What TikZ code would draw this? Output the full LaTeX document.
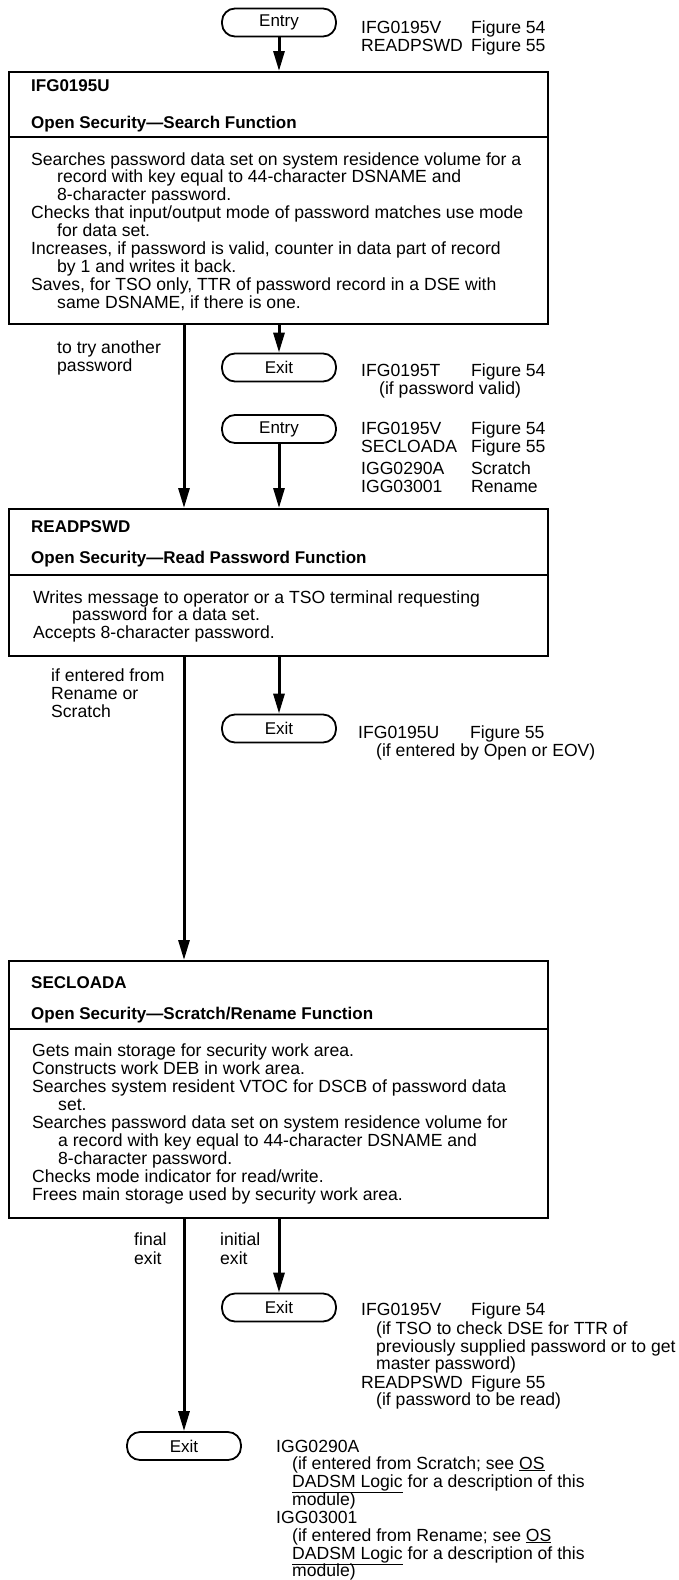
\documentclass[tikz,border=0pt]{standalone}
\usepackage{fontspec}
\setmainfont{Liberation Sans}
\usetikzlibrary{arrows.meta}
\begin{document}
\begin{tikzpicture}[x=1pt,y=-1pt,
  txt/.style={anchor=base west, inner sep=0pt, font=\fontsize{17.6}{18}\selectfont},
  hd/.style={anchor=base west, inner sep=0pt, font=\fontsize{17}{18}\selectfont\bfseries},
  term/.style={draw, line width=1.8pt, rounded corners=13pt, minimum width=114pt,
    minimum height=28pt, inner sep=0pt, font=\fontsize{17}{18}\selectfont},
  box/.style={draw, line width=1.8pt, anchor=north west, inner sep=0pt, minimum width=539pt},
  rule/.style={line width=1.8pt},
  flow/.style={line width=3pt, -{Triangle[length=20pt,width=11pt]}}
]
\useasboundingbox (0,0) rectangle (679,1580);

% terminals
\node[term] (e1) at (279,22.5) {Entry};
\node[term] (x1) at (279,367.5) {Exit};
\node[term] (e2) at (279,429) {Entry};
\node[term] (x2) at (279,728.5) {Exit};
\node[term] (x3) at (279,1307.5) {Exit};
\node[term] (x4) at (184,1446) {Exit};

% process boxes
\node[box, minimum height=252pt] (b1) at (8,71) {};
\node[box, minimum height=147pt] (b2) at (8,508) {};
\node[box, minimum height=257pt] (b3) at (8,960) {};
\draw[rule] (b1.west |- 0,137) -- (b1.east |- 0,137);
\draw[rule] (b2.west |- 0,575) -- (b2.east |- 0,575);
\draw[rule] (b3.west |- 0,1029) -- (b3.east |- 0,1029);

% left-hand flow column
\coordinate (lc) at (184,0);

% connectors
\draw[flow] (e1.south) -- (e1.south |- b1.north);
\draw[flow] (x1.north |- b1.south) -- (x1.north);
\draw[flow] (lc |- b1.south) -- (lc |- b2.north);
\draw[flow] (e2.south) -- (e2.south |- b2.north);
\draw[flow] (x2.north |- b2.south) -- (x2.north);
\draw[flow] (lc |- b2.south) -- (lc |- b3.north);
\draw[flow] (x3.north |- b3.south) -- (x3.north);
\draw[flow] (lc |- b3.south) -- (x4.north);

% entry references
\node[txt] (r1a) at (361,33) {IFG0195V};
\node[txt] (r1b) at (471,33) {Figure 54};
\node[txt] (r1c) at (361,51) {READPSWD};
\node[txt] (r1d) at (471,51) {Figure 55};

% IFG0195U
\node[hd] (h1a) at (31,91) {IFG0195U};
\node[hd] (h1b) at (31,128) {Open Security\textemdash Search Function};
\node[txt] (t1a) at (31,165) {Searches password data set on system residence volume for a};
\node[txt] (t1b) at (57,182.9) {record with key equal to 44-character DSNAME and};
\node[txt] (t1c) at (57,200.8) {8-character password.};
\node[txt] (t1d) at (31,218.7) {Checks that input/output mode of password matches use mode};
\node[txt] (t1e) at (57,236.6) {for data set.};
\node[txt] (t1f) at (31,254.5) {Increases, if password is valid, counter in data part of record};
\node[txt] (t1g) at (57,272.4) {by 1 and writes it back.};
\node[txt] (t1h) at (31,290.3) {Saves, for TSO only, TTR of password record in a DSE with};
\node[txt] (t1i) at (57,308.2) {same DSNAME, if there is one.};

\node[txt] (l1a) at (57,353) {to try another};
\node[txt] (l1b) at (57,371) {password};

\node[txt] (r2a) at (361,376) {IFG0195T};
\node[txt] (r2b) at (471,376) {Figure 54};
\node[txt] (r2c) at (379,394) {(if password valid)};

\node[txt] (r3a) at (361,434) {IFG0195V};
\node[txt] (r3b) at (471,434) {Figure 54};
\node[txt] (r3c) at (361,452) {SECLOADA};
\node[txt] (r3d) at (471,452) {Figure 55};
\node[txt] (r3e) at (361,474) {IGG0290A};
\node[txt] (r3f) at (471,474) {Scratch};
\node[txt] (r3g) at (361,492) {IGG03001};
\node[txt] (r3h) at (471,492) {Rename};

% READPSWD
\node[hd] (h2a) at (31,532) {READPSWD};
\node[hd] (h2b) at (31,563) {Open Security\textemdash Read Password Function};
\node[txt] (t2a) at (33,603) {Writes message to operator or a TSO terminal requesting};
\node[txt] (t2b) at (72,620.5) {password for a data set.};
\node[txt] (t2c) at (33,638) {Accepts 8-character password.};

\node[txt] (l2a) at (51,681) {if entered from};
\node[txt] (l2b) at (51,699) {Rename or};
\node[txt] (l2c) at (51,717) {Scratch};

\node[txt] (r4a) at (358,738) {IFG0195U};
\node[txt] (r4b) at (470,738) {Figure 55};
\node[txt] (r4c) at (376,756) {(if entered by Open or EOV)};

% SECLOADA
\node[hd] (h3a) at (31,988) {SECLOADA};
\node[hd] (h3b) at (31,1019) {Open Security\textemdash Scratch/Rename Function};
\node[txt] (t3a) at (32,1056) {Gets main storage for security work area.};
\node[txt] (t3b) at (32,1074) {Constructs work DEB in work area.};
\node[txt] (t3c) at (32,1092) {Searches system resident VTOC for DSCB of password data};
\node[txt] (t3d) at (58,1110) {set.};
\node[txt] (t3e) at (32,1128) {Searches password data set on system residence volume for};
\node[txt] (t3f) at (58,1146) {a record with key equal to 44-character DSNAME and};
\node[txt] (t3g) at (58,1164) {8-character password.};
\node[txt] (t3h) at (32,1182) {Checks mode indicator for read/write.};
\node[txt] (t3i) at (32,1200) {Frees main storage used by security work area.};

\node[txt] (l3a) at (134,1245) {final};
\node[txt] (l3b) at (134,1264) {exit};
\node[txt] (l3c) at (220,1245) {initial};
\node[txt] (l3d) at (220,1264) {exit};

\node[txt] (r5a) at (361,1315) {IFG0195V};
\node[txt] (r5b) at (471,1315) {Figure 54};
\node[txt] (r5c) at (376,1334) {(if TSO to check DSE for TTR of};
\node[txt] (r5d) at (376,1352) {previously supplied password or to get};
\node[txt] (r5e) at (376,1369) {master password)};
\node[txt] (r5f) at (361,1388) {READPSWD};
\node[txt] (r5g) at (471,1388) {Figure 55};
\node[txt] (r5h) at (376,1405) {(if password to be read)};

\node[txt] (r6a) at (276,1452) {IGG0290A};
\node[txt] (r6b) at (292,1469) {(if entered from Scratch; see \underline{OS}};
\node[txt] (r6c) at (292,1487) {\underline{DADSM Logic} for a description of this};
\node[txt] (r6d) at (292,1505) {module)};
\node[txt] (r6e) at (276,1523) {IGG03001};
\node[txt] (r6f) at (292,1541) {(if entered from Rename; see \underline{OS}};
\node[txt] (r6g) at (292,1559) {\underline{DADSM Logic} for a description of this};
\node[txt] (r6h) at (292,1576.5) {module)};
\end{tikzpicture}
\end{document}
